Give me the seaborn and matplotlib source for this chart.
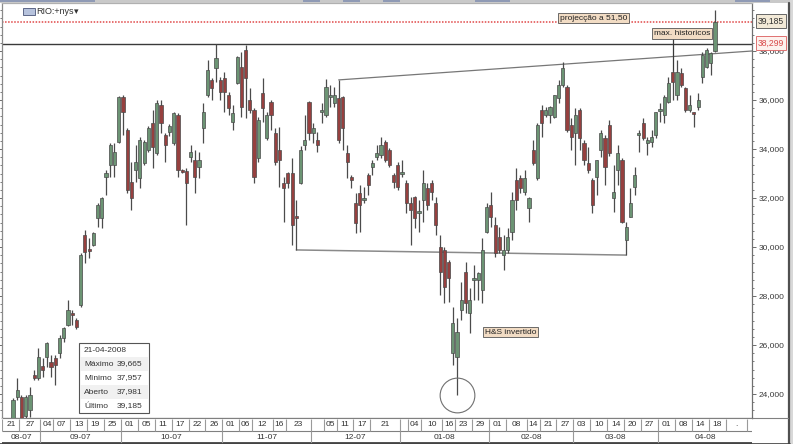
import numpy as np
import matplotlib
matplotlib.use("Agg")
import matplotlib.pyplot as plt
import seaborn as sns
from matplotlib.ticker import FuncFormatter, MultipleLocator
from matplotlib.patches import Rectangle
from matplotlib.lines import Line2D

# ---------------- data (daily candles, RIO:nys) ----------------
opens = [23.02, 23.88, 23.88, 23.10, 23.35, 24.77, 24.65, 25.14, 25.51, 25.31,
         25.47, 25.67, 26.29, 26.82, 27.31, 27.02, 27.63, 30.49, 29.92, 30.08,
         31.18, 31.18, 32.86, 33.35, 33.35, 34.29, 36.12, 34.78, 32.65, 33.14,
         32.82, 33.43, 33.96, 35.06, 33.84, 35.80, 34.57, 34.69, 34.24, 35.39,
         33.14, 33.10, 33.67, 33.55, 33.27, 34.86, 36.20, 36.82, 37.31, 36.82,
         36.90, 36.20, 35.10, 36.69, 37.35, 38.04, 36.00, 35.59, 33.63, 36.29,
         34.45, 35.92, 34.65, 33.96, 32.61, 33.02, 33.02, 31.27, 32.61, 34.16,
         35.92, 34.65, 34.37, 35.51, 35.39, 36.12, 35.88, 36.08, 36.12, 33.84,
         32.86, 31.80, 32.20, 31.92, 32.94, 33.27, 33.67, 33.76, 34.29, 33.96,
         32.94, 33.35, 32.98, 32.61, 31.80, 32.04, 31.39, 31.92, 32.41, 32.61,
         31.80, 30.00, 29.88, 29.39, 25.67, 25.51, 27.43, 28.98, 27.31, 28.65,
         28.65, 28.24, 30.61, 31.71, 30.90, 30.41, 29.67, 29.88, 30.61, 32.73,
         32.82, 32.24, 31.59, 33.96, 32.82, 35.59, 35.39, 35.39, 35.31, 36.08,
         36.61, 36.53, 34.98, 34.65, 35.59, 34.24, 33.43, 32.73, 32.86, 33.96,
         34.45, 34.98, 32.00, 33.14, 33.55, 30.29, 31.22, 32.45, 34.57, 35.06,
         34.24, 34.29, 34.57, 35.55, 35.39, 35.92, 37.14, 36.20, 37.10, 36.49,
         35.59, 35.51, 35.71, 36.94, 37.35, 37.51, 37.981]
closes = [23.76, 24.16, 23.02, 23.88, 23.96, 24.65, 25.51, 24.98, 26.08, 25.10,
          25.18, 26.29, 26.69, 27.43, 27.22, 26.73, 29.67, 29.80, 29.84, 30.57,
          31.71, 32.00, 33.02, 34.16, 33.88, 36.12, 35.51, 32.33, 32.00, 33.47,
          34.37, 34.29, 34.86, 34.08, 35.88, 35.06, 34.16, 34.94, 35.47, 33.14,
          33.06, 32.61, 33.88, 32.86, 33.55, 35.51, 37.22, 36.49, 37.71, 36.33,
          36.33, 35.67, 35.47, 37.76, 35.71, 36.90, 35.59, 32.86, 35.18, 35.67,
          35.39, 35.39, 33.47, 33.55, 32.41, 32.61, 30.90, 31.18, 33.96, 34.37,
          34.65, 34.86, 34.16, 35.59, 36.53, 36.20, 36.20, 34.37, 34.86, 33.47,
          32.73, 30.98, 31.71, 32.00, 32.53, 33.43, 33.84, 34.16, 33.55, 33.35,
          32.65, 32.45, 33.06, 31.80, 31.51, 31.18, 31.47, 32.61, 31.71, 32.24,
          30.90, 28.98, 28.37, 28.73, 26.90, 26.53, 27.84, 27.71, 27.84, 28.73,
          28.94, 29.88, 31.63, 31.22, 29.76, 29.88, 29.88, 30.41, 31.92, 31.92,
          32.41, 32.82, 32.00, 33.43, 34.98, 35.06, 35.59, 35.71, 36.20, 36.61,
          37.31, 34.78, 34.49, 35.39, 34.45, 33.55, 33.14, 31.71, 33.55, 34.65,
          33.27, 33.84, 32.24, 33.84, 31.02, 30.82, 31.80, 32.94, 34.65, 34.45,
          34.37, 34.49, 35.51, 35.63, 36.12, 36.69, 36.73, 37.14, 36.61, 35.59,
          35.80, 35.43, 36.00, 37.84, 38.04, 37.92, 39.185]
highs = [23.84, 24.65, 23.96, 23.96, 24.29, 24.98, 25.88, 25.47, 26.12, 25.59,
         25.59, 26.41, 26.73, 27.84, 27.43, 27.10, 29.76, 30.69, 30.37, 30.61,
         31.80, 32.04, 33.14, 34.24, 34.24, 36.16, 36.20, 34.86, 33.47, 34.16,
         34.49, 34.37, 34.94, 35.59, 36.00, 36.00, 34.65, 35.02, 35.51, 35.47,
         33.18, 33.22, 34.16, 33.96, 33.88, 35.88, 37.63, 36.90, 38.299, 36.94,
         37.14, 36.33, 35.80, 37.80, 37.96, 38.25, 36.49, 35.67, 35.31, 36.90,
         35.51, 36.00, 34.86, 34.90, 32.86, 33.06, 33.63, 31.92, 34.12, 35.39,
         35.96, 35.06, 34.69, 35.88, 36.86, 36.61, 36.53, 36.82, 36.16, 34.16,
         32.94, 32.20, 32.53, 32.45, 33.02, 33.55, 34.16, 34.49, 34.37, 34.04,
         33.02, 33.47, 33.55, 32.73, 32.04, 32.08, 31.92, 33.14, 32.61, 32.73,
         32.04, 30.49, 30.00, 29.47, 27.55, 27.10, 28.57, 29.39, 28.33, 29.27,
         28.98, 30.37, 31.80, 32.24, 31.22, 30.82, 30.49, 30.78, 32.24, 33.22,
         32.94, 33.14, 32.04, 34.37, 35.06, 35.80, 35.71, 35.76, 36.20, 36.82,
         37.55, 36.61, 35.27, 35.67, 35.67, 34.37, 34.08, 32.82, 33.55, 34.78,
         34.57, 35.18, 33.35, 34.16, 33.63, 31.02, 32.41, 33.27, 34.78, 35.27,
         34.49, 34.78, 35.51, 35.88, 36.20, 36.94, 37.22, 37.63, 37.31, 36.53,
         36.20, 35.51, 36.29, 37.96, 38.12, 37.96, 39.665]
lows = [22.86, 23.76, 22.86, 23.02, 23.06, 24.57, 24.57, 24.69, 25.10, 24.69,
        24.37, 25.47, 26.12, 26.78, 26.82, 26.65, 27.55, 29.35, 29.55, 30.04,
        30.82, 30.78, 32.12, 32.86, 32.86, 34.24, 34.57, 32.20, 31.51, 32.65,
        32.41, 33.35, 33.88, 33.22, 33.76, 34.65, 33.47, 34.53, 34.16, 32.86,
        33.02, 30.90, 33.47, 32.20, 32.82, 34.24, 36.12, 36.00, 36.73, 36.00,
        35.51, 35.39, 34.78, 36.65, 35.31, 35.27, 35.47, 32.61, 33.47, 35.10,
        34.37, 34.78, 33.35, 32.45, 31.02, 32.41, 30.08, 29.88, 32.57, 33.96,
        34.37, 34.24, 33.88, 35.06, 35.31, 35.71, 35.71, 34.24, 33.96, 32.82,
        32.41, 30.57, 30.61, 31.80, 32.12, 32.94, 33.55, 33.63, 33.47, 33.27,
        32.41, 32.33, 32.86, 31.39, 30.08, 30.78, 30.61, 31.02, 31.51, 31.92,
        30.49, 28.04, 27.71, 27.76, 25.18, 23.96, 27.02, 27.31, 26.49, 27.84,
        27.84, 27.71, 30.57, 30.82, 29.59, 29.76, 29.06, 29.76, 30.29, 31.51,
        32.20, 32.12, 31.02, 33.35, 32.73, 34.49, 35.31, 35.06, 35.27, 35.88,
        36.53, 34.69, 33.96, 33.35, 33.96, 33.35, 33.02, 31.39, 32.12, 33.67,
        32.53, 33.71, 31.43, 32.53, 30.98, 29.67, 31.22, 32.12, 33.88, 34.37,
        33.76, 34.08, 34.45, 35.10, 35.06, 35.88, 36.00, 36.00, 36.53, 35.51,
        35.51, 34.90, 35.59, 36.69, 37.31, 37.02, 37.957]

# date row (candle index where each labelled day starts)
day_labels = ["21", "27", "04", "07", "13", "19", "25", "01", "05", "11", "17", "22", "26",
              "01", "06", "12", "16", "23", "", "05", "11", "17", "21", "", "04", "10", "16",
              "23", "29", "01", "08", "14", "21", "27", "03", "10", "14", "20", "27", "01",
              "08", "14", "18", "."]
day_pos = [-2, 2, 7, 10, 14, 18, 22, 26, 30, 34, 38, 42, 46, 50, 54, 57, 62, 65, 71, 74,
           77, 81, 85, 92, 94, 97, 102, 105, 109, 113, 117, 122, 125, 129, 133, 137, 141,
           145, 149, 153, 157, 161, 165, 169]
day_end = 174
month_labels = ["08-07", "09-07", "10-07", "11-07", "12-07", "01-08", "02-08", "03-08", "04-08"]
month_pos = [7, 26, 50, 71, 92, 113, 133, 153]

yticks = [24, 26, 28, 30, 32, 34, 36, 38]
max_hist = 38.299
proj_level = 39.185
neck_hi_x = [77, 174.75]
neck_hi_y = [36.82, 38.00]
neck_lo_x = [67, 145]
neck_lo_y = [29.88, 29.67]
head_idx = 105
head_low = 23.96
info_date = "21-04-2008"
info_rows = [("Máximo", "39,665"), ("Mínimo", "37,957"), ("Aberto", "37,981"), ("Último", "39,185")]

# ---------------- figure ----------------
sns.set_style("white")
plt.rcParams['font.family'] = ['Liberation Sans', 'DejaVu Sans']

W, H = 793, 444
fig = plt.figure(figsize=(W / 100, H / 100), dpi=100)
fig.patch.set_facecolor('white')


def fx(px):
    return px / W


def fy(py):
    return 1 - py / H


X0, DX = 13.0, 4.229
x_left, x_right = (2 - X0) / DX, (752 - X0) / DX
y_bot, y_top = 24 - (418 - 394) / 24.5, 24 + (394 - 3) / 24.5

ax = fig.add_axes([fx(2), fy(418), fx(752) - fx(2), fy(3) - fy(418)])
ax.set_xlim(x_left, x_right)
ax.set_ylim(y_bot, y_top)
ax.set_facecolor('white')

o = np.array(opens); c = np.array(closes); h = np.array(highs); l = np.array(lows)
idx = np.arange(len(o))
up = c >= o
ax.vlines(idx, l, h, color='#4b4b4b', lw=0.9, zorder=3)
bottom = np.minimum(o, c)
height = np.maximum(np.abs(c - o), 0.05)
ax.bar(idx[up], height[up], bottom=bottom[up], width=0.75, color='#6c9474',
       edgecolor='#4a4a4a', linewidth=0.5, zorder=4)
ax.bar(idx[~up], height[~up], bottom=bottom[~up], width=0.75, color='#96403f',
       edgecolor='#4a4a4a', linewidth=0.5, zorder=4)

# reference lines
ax.axhline(max_hist, color='#3a3a3a', lw=1.0, zorder=2)
ax.axhline(proj_level, color='#e04848', lw=1.1, ls=(0, (1, 1)), zorder=2)
sns.lineplot(x=neck_hi_x, y=neck_hi_y, ax=ax, color='#777777', lw=0.9, sort=False,
             estimator=None, zorder=2)
sns.lineplot(x=neck_lo_x, y=neck_lo_y, ax=ax, color='#8a8a8a', lw=1.1, sort=False,
             estimator=None, zorder=2)
ax.plot([head_idx], [head_low], marker='o', ms=25, mfc='none', mec='#707070', mew=0.8,
        zorder=5)
# leader from "max. historicos" label down to candle
ax.plot([156, 156], [38.49, 37.22], color='#3a3a3a', lw=0.9, zorder=5)

# axes / ticks
ax.set_xticks([])
ax.yaxis.tick_right()
ax.set_yticks(yticks)
ax.yaxis.set_major_formatter(FuncFormatter(lambda v, p: f"{v:.3f}".replace('.', ',')))
ax.yaxis.set_minor_locator(MultipleLocator(1 / 3))
ax.tick_params(axis='y', which='major', direction='out', length=3, width=0.6,
               color='#555555', labelsize=6, labelcolor='#3a3a3a', pad=1.5)
ax.tick_params(axis='y', which='minor', direction='out', length=1.6, width=0.6,
               color='#666666')
ax.tick_params(axis='y', which='both', left=True, right=True)
for side, col in [('left', '#8a8a8a'), ('right', '#707070'), ('bottom', '#555555'),
                  ('top', '#b0b0b0')]:
    ax.spines[side].set_color(col)
    ax.spines[side].set_linewidth(0.9)

# ---------------- date rows ----------------
axd = fig.add_axes([fx(2), fy(444), fx(752) - fx(2), fy(418) - fy(444)])
axd.set_xlim(x_left, x_right)
axd.set_ylim(26, 0)
axd.axis('off')
axd.add_patch(Rectangle((x_left, 0), x_right - x_left, 25.5, fc='white', ec='none'))
axd.hlines([0.3, 13], x_left, x_right, color='#808080', lw=0.8)
axd.hlines([25.3], x_left, x_right, color='#505050', lw=1.4)
seps = [p - 0.5 for p in day_pos] + [day_end - 0.5]
for s in seps:
    if s > x_left:
        axd.vlines(s, 0.5, 12.8, color='#9a9a9a', lw=0.8)
for i, lab in enumerate(day_labels):
    a = max(seps[i], x_left)
    b = seps[i + 1]
    axd.text((a + b) / 2, 6.8, lab, ha='center', va='center', fontsize=6, color='#333333')
mseps = [x_left] + [p - 0.5 for p in month_pos] + [x_right]
for s in mseps[1:-1]:
    axd.vlines(s, 13, 25, color='#9a9a9a', lw=0.8)
for i, lab in enumerate(month_labels):
    axd.text((mseps[i] + mseps[i + 1]) / 2, 19.3, lab, ha='center', va='center',
             fontsize=6, color='#333333')

# ---------------- decorations (figure level) ----------------
def frect(x0, y0, x1, y1, **kw):
    fig.patches.append(Rectangle((fx(x0), fy(y1)), fx(x1) - fx(x0), fy(y0) - fy(y1),
                                 transform=fig.transFigure, figure=fig, **kw))


def fline(xs, ys, **kw):
    fig.lines.append(Line2D([fx(v) for v in xs], [fy(v) for v in ys],
                            transform=fig.transFigure, figure=fig, **kw))


# top tab strip
frect(0, 0, 793, 3, fc='#c9c9c9', ec='none')
for a, b in [(0, 95), (303, 320), (343, 360), (383, 400), (475, 510), (735, 770)]:
    frect(a, 0, b, 2.5, fc='#8f9ab5', ec='none')
# right border
fline([788.5, 788.5], [3, 444], color='#505050', lw=1.6)
frect(790, 0, 793, 444, fc='#d8d8d8', ec='none')
fline([752, 788], [418, 418], color='#808080', lw=0.8)
fline([0, 790], [443.5, 443.5], color='#404040', lw=1.2)

# header
frect(23, 8, 35, 15, fc='#b7c3dd', ec='#4a5578', lw=0.6)
fig.text(fx(36), fy(11.5), "RIO:+nys", fontsize=6.5, color='#333333', va='center', ha='left')
fig.text(fx(74), fy(11.5), "▾", fontsize=6.5, color='#333333', va='center', ha='left',
         family=['DejaVu Sans'])

beige = '#f2dcc4'
fig.text(fx(593.5), fy(18), "projecção a 51,50", fontsize=6, ha='center', va='center',
         color='#222222', bbox=dict(boxstyle='square,pad=0.2', fc=beige, ec='#555555', lw=0.6))
fig.text(fx(682), fy(33.5), "max. historicos", fontsize=6, ha='center', va='center',
         color='#222222', bbox=dict(boxstyle='square,pad=0.2', fc=beige, ec='#555555', lw=0.6))
fig.text(fx(510.5), fy(332), "H&S invertido", fontsize=6, ha='center', va='center',
         color='#222222', bbox=dict(boxstyle='square,pad=0.2', fc=beige, ec='#555555', lw=0.6))
fig.text(fx(771), fy(21), f"{proj_level:.3f}".replace('.', ','), fontsize=6.2, ha='center',
         va='center', color='#333333',
         bbox=dict(boxstyle='square,pad=0.25', fc='#f3ead8', ec='#666666', lw=0.7), zorder=10)
fig.text(fx(771), fy(43), f"{max_hist:.3f}".replace('.', ','), fontsize=6.2, ha='center',
         va='center', color='#d84848',
         bbox=dict(boxstyle='square,pad=0.25', fc='#fdf2ee', ec='#e07070', lw=0.7), zorder=10)

# info box
frect(79, 343, 149, 413, fc='white', ec='#555555', lw=0.8, zorder=6)
for k in range(5):
    if k % 2 == 1:
        frect(80, 343 + 14 * k, 148, 357 + 14 * k, fc='#f1f1f1', ec='none', zorder=6)
fig.text(fx(84), fy(350), info_date, fontsize=6, va='center', ha='left', color='#333333',
         zorder=7)
for k, (lab, val) in enumerate(info_rows, start=1):
    yy = 350 + 14 * k
    fig.text(fx(84), fy(yy), lab, fontsize=6, va='center', ha='left', color='#333333', zorder=7)
    fig.text(fx(117), fy(yy), val, fontsize=6, va='center', ha='left', color='#333333', zorder=7)

fig.savefig("out.png", dpi=100, facecolor='white')
